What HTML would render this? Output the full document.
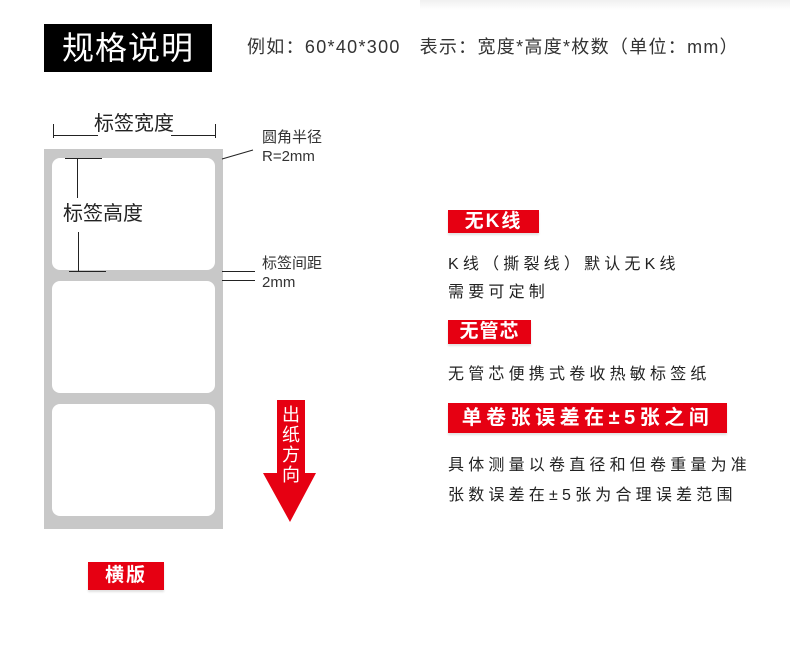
<!DOCTYPE html>
<html><head><meta charset="utf-8"><style>
*{margin:0;padding:0;box-sizing:border-box}
body{width:790px;height:648px;background:#fff;position:relative;overflow:hidden;font-family:"Liberation Sans","Noto Sans CJK SC",sans-serif;color:#222}
.a{position:absolute;white-space:nowrap}
.tag{position:absolute;background:#e60012;color:#fff;font-weight:bold;text-align:center;box-shadow:0 2px 2px rgba(0,0,0,0.12)}
.lbl{position:absolute;left:52px;width:163px;height:112px;background:#fff;border-radius:8px}
.t{position:absolute;font-size:16px;letter-spacing:4.2px;color:#222;white-space:nowrap}
.ln{position:absolute;background:#222}
</style></head><body>
<div class="a" style="left:420px;top:0;width:370px;height:10px;background:linear-gradient(#f0f0f0,#fff)"></div>
<div class="a" style="left:44px;top:24px;width:168px;height:48px;background:#000;color:#fff;font-size:32px;line-height:48px;text-align:center;letter-spacing:1px">规格说明</div>
<div class="a" style="left:247px;top:35px;font-size:18px;color:#333;line-height:24px;letter-spacing:1.3px">例如：60*40*300&nbsp;&nbsp;&nbsp;表示：宽度*高度*枚数（单位：mm）</div>

<div class="a" style="left:44px;top:149px;width:179px;height:380px;background:#c8c8c8"></div>
<div class="lbl" style="top:158px"></div>
<div class="lbl" style="top:281px"></div>
<div class="lbl" style="top:404px"></div>

<div class="ln" style="left:53px;top:124px;width:1px;height:14px"></div>
<div class="ln" style="left:215px;top:124px;width:1px;height:14px"></div>
<div class="ln" style="left:53px;top:135px;width:45px;height:1px"></div>
<div class="ln" style="left:171px;top:135px;width:45px;height:1px"></div>
<div class="a" style="left:94px;top:112px;font-size:20px;line-height:24px">标签宽度</div>
<div class="ln" style="left:65px;top:158px;width:37px;height:1px"></div>
<div class="ln" style="left:69px;top:271px;width:37px;height:1px"></div>
<div class="ln" style="left:77px;top:158px;width:1px;height:40px"></div>
<div class="ln" style="left:78px;top:232px;width:1px;height:39px"></div>
<div class="a" style="left:63px;top:202px;font-size:20px;line-height:24px">标签高度</div>
<svg class="a" style="left:0;top:0" width="790" height="648"><line x1="222" y1="159" x2="253" y2="150" stroke="#222" stroke-width="1"/>
<polygon points="277,400 305,400 305,473 316,473 290,522 263,473 277,473" fill="#e60012"/></svg>
<div class="a" style="left:262px;top:128px;font-size:15px;line-height:19px;color:#333">圆角半径<br>R=2mm</div>
<div class="ln" style="left:222px;top:271px;width:33px;height:1px"></div>
<div class="ln" style="left:222px;top:280px;width:33px;height:1px"></div>
<div class="a" style="left:262px;top:254px;font-size:15px;line-height:19px;color:#333">标签间距<br>2mm</div>
<div class="a" style="left:280px;top:405px;width:22px;color:#fff;font-size:18px;line-height:20px;text-align:center;white-space:normal">出纸方向</div>

<div class="tag" style="left:448px;top:210px;width:91px;height:23px;font-size:19px;line-height:23px;letter-spacing:2px">无K线</div>
<div class="t" style="left:448px;top:250px">K线（撕裂线）默认无K线</div>
<div class="t" style="left:448px;top:278px">需要可定制</div>
<div class="tag" style="left:448px;top:320px;width:83px;height:24px;font-size:19px;line-height:24px;letter-spacing:1px">无管芯</div>
<div class="t" style="left:448px;top:360px">无管芯便携式卷收热敏标签纸</div>
<div class="tag" style="left:448px;top:403px;width:279px;height:30px;font-size:20px;line-height:30px;letter-spacing:4.5px">单卷张误差在±5张之间</div>
<div class="t" style="left:448px;top:451px">具体测量以卷直径和但卷重量为准</div>
<div class="t" style="left:448px;top:481px">张数误差在±5张为合理误差范围</div>
<div class="tag" style="left:88px;top:562px;width:76px;height:28px;font-size:19px;line-height:28px;letter-spacing:2px">横版</div>
</body></html>
